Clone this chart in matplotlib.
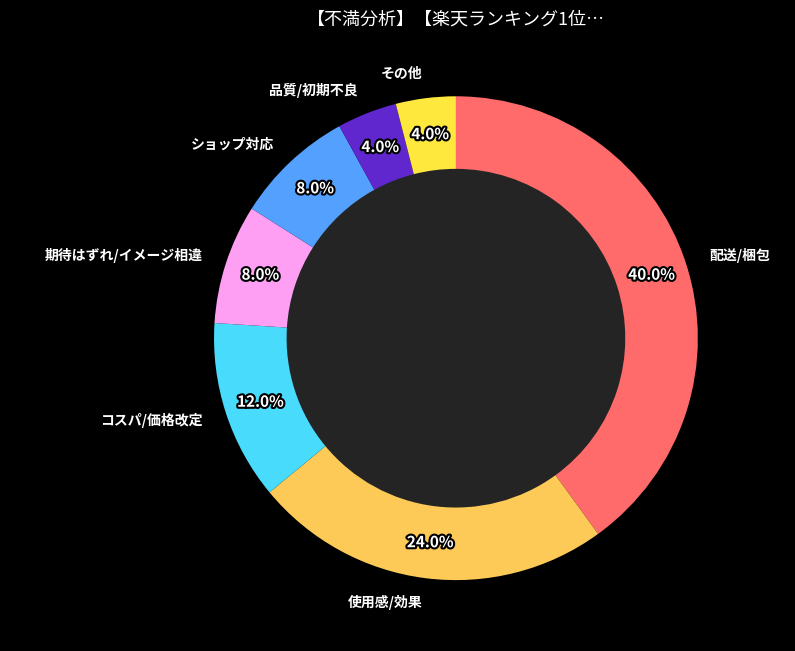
import matplotlib.pyplot as plt
import matplotlib.patheffects as pe
from matplotlib.patches import Circle

plt.rcParams['font.family'] = ['Noto Sans CJK JP', 'DejaVu Sans']

labels = ['配送/梱包', '使用感/効果', 'コスパ/価格改定', '期待はずれ/イメージ相違',
          'ショップ対応', '品質/初期不良', 'その他']
values = [40, 24, 12, 8, 8, 4, 4]
colors = ['#FF6B6B', '#FECA57', '#48DBFB', '#FF9FF3', '#54A0FF', '#5F27CD', '#FFE83D']
title = '【不満分析】【楽天ランキング1位…'

fig = plt.figure(figsize=(7.95, 6.51), dpi=100, facecolor='black')
ax = fig.add_axes([0.193, 0.016, 0.761, 0.929])
ax.set_facecolor('black')

wedges, texts, autotexts = ax.pie(
    values, labels=labels, colors=colors, startangle=90, counterclock=False,
    autopct='%1.1f%%', pctdistance=0.85, labeldistance=1.1,
    wedgeprops=dict(width=0.3, edgecolor='none'),
    textprops=dict(color='white', fontsize=10, fontweight='bold'))
for t in autotexts:
    t.set_fontsize(11)
    t.set_path_effects([pe.withStroke(linewidth=3, foreground='black')])
ax.add_patch(Circle((0, 0), 0.7, color='#242424', zorder=0))
ax.set_aspect('equal')

fig.text(456 / 795, 1 - 20 / 651, title, color='white', fontsize=13,
         ha='center', va='center')

fig.savefig('out.png', facecolor='black')
